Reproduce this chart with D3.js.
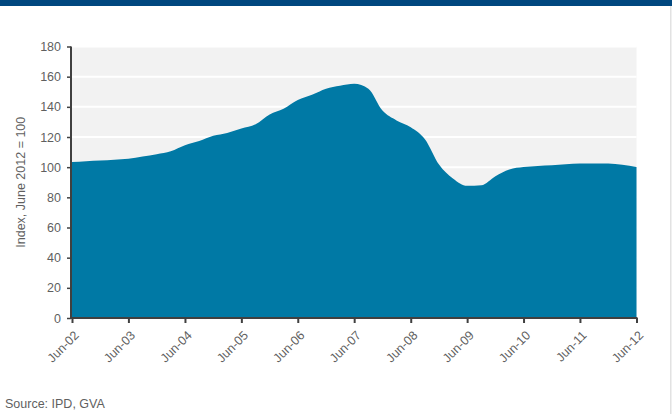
<!DOCTYPE html>
<html>
<head>
<meta charset="utf-8">
<script src="https://cdn.jsdelivr.net/npm/d3@7"></script>
<style>
  body { margin: 0; background: #fff; }
  svg text { font-family: "Liberation Sans", Arial, sans-serif; fill: #5f5f5f; }
</style>
</head>
<body>
<script>
// quarterly index values, Jun-02 .. Jun-12 (June 2012 = 100)
var startDate = "2002-06-01"
var values = [103.4, 104.0, 104.5, 105.0, 105.6, 107.0, 108.6, 110.5, 114.5, 117.3,
              120.8, 122.7, 125.7, 128.5, 135.0, 138.7, 144.5, 148.0, 152.0, 154.0,
              155.3, 152.0, 137.5, 131.0, 126.5, 118.5, 101.7, 92.5, 87.6, 88.0,
              94.0, 98.5, 100.1, 100.8, 101.3, 101.9, 102.4, 102.5, 102.4, 101.6, 100.1]
var yTicks = [0, 20, 40, 60, 80, 100, 120, 140, 160, 180]
var xTickYears = [2002, 2003, 2004, 2005, 2006, 2007, 2008, 2009, 2010, 2011, 2012]

var W = 672, H = 414
var plot = {left: 72, right: 636.5, top: 46.5, bottom: 318}

var parse = d3.timeParse("%Y-%m-%d")
var t0 = parse(startDate)
var data = values.map(function(v, i) {
  return {date: d3.timeMonth.offset(t0, i * 3), value: v}
})

var svg = d3.select("body").append("svg")
  .attr("width", W)
  .attr("height", H)

// top band
svg.append("rect").attr("x", 0).attr("y", 0).attr("width", W).attr("height", 6)
  .attr("fill", "#00477f")
// right edge line
svg.append("rect").attr("x", 670).attr("y", 6).attr("width", 1.5).attr("height", H)
  .attr("fill", "#e2e2e2")

var x = d3.scaleTime()
  .domain([t0, d3.timeMonth.offset(t0, 120)])
  .range([plot.left, plot.right])
var y = d3.scaleLinear()
  .domain([0, 180])
  .range([plot.bottom, plot.top])

// plot background
svg.append("rect")
  .attr("x", plot.left).attr("y", plot.top)
  .attr("width", plot.right - plot.left).attr("height", plot.bottom - plot.top)
  .attr("fill", "#f2f2f2")

// gridlines
svg.append("g").selectAll("line")
  .data(yTicks.slice(1))
  .enter().append("line")
  .attr("x1", plot.left).attr("x2", plot.right)
  .attr("y1", function(d) { return y(d) }).attr("y2", function(d) { return y(d) })
  .attr("stroke", "#fff").attr("stroke-width", 2)

var area = d3.area()
  .x(function(d) { return x(d.date) })
  .y0(y(0))
  .y1(function(d) { return y(d.value) })
  .curve(d3.curveMonotoneX)

svg.append("path")
  .datum(data)
  .attr("d", area)
  .attr("fill", "#0079a5")

// axes
var yAxis = d3.axisLeft(y).tickValues(yTicks).tickSize(4).tickPadding(6)
var gy = svg.append("g")
  .attr("transform", "translate(" + (plot.left - 1) + ",0)")
  .call(yAxis)
gy.select(".domain").attr("stroke", "#404040").attr("stroke-width", 2)
  .attr("d", "M0," + plot.top + "V" + (plot.bottom + 1))
gy.selectAll(".tick line").attr("stroke", "#404040").attr("stroke-width", 1.5)
gy.selectAll(".tick text").style("font-size", "12.5px").attr("fill", "#5f5f5f")

var xTicks = xTickYears.map(function(yr) { return new Date(yr, 5, 1) })
var xAxis = d3.axisBottom(x).tickValues(xTicks).tickSize(5)
  .tickFormat(d3.timeFormat("%b-%y"))
var gx = svg.append("g")
  .attr("transform", "translate(0," + plot.bottom + ")")
  .call(xAxis)
gx.select(".domain").attr("stroke", "#404040").attr("stroke-width", 2)
  .attr("d", "M" + (plot.left - 2) + ",0H" + (plot.right + 1))
gx.selectAll(".tick line").attr("stroke", "#404040").attr("stroke-width", 2)
gx.selectAll(".tick text")
  .style("font-size", "12.5px")
  .attr("fill", "#5f5f5f")
  .attr("text-anchor", "end")
  .attr("dy", "0.35em")
  .attr("transform", "translate(4,15) rotate(-45)")
  .attr("y", 0).attr("x", 0)

// axis title
svg.append("text")
  .attr("transform", "translate(25," + ((plot.top + plot.bottom) / 2) + ") rotate(-90)")
  .attr("text-anchor", "middle")
  .style("font-size", "12.5px")
  .text("Index, June 2012 = 100")

// source
svg.append("text")
  .attr("x", 5).attr("y", 408)
  .style("font-size", "12.5px")
  .text("Source: IPD, GVA")
</script>
</body>
</html>
